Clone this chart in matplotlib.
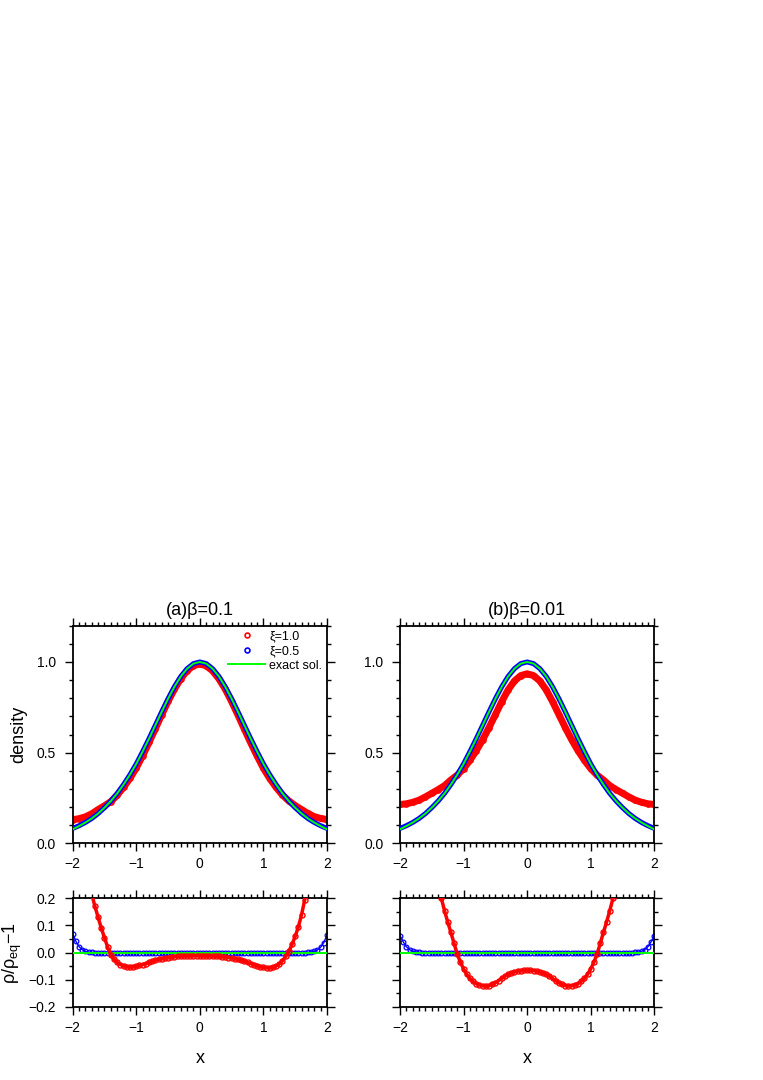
import numpy as np
import matplotlib
matplotlib.use('Agg')
import matplotlib.pyplot as plt
from matplotlib.lines import Line2D
from matplotlib.ticker import MultipleLocator, FuncFormatter

plt.rcParams['font.family'] = ['Liberation Sans', 'DejaVu Sans']

# density panels, x = -2 .. 2 step 0.1
x_top = np.round(np.arange(-2.0, 2.001, 0.1), 2)
exact = [0.077, 0.095, 0.1145, 0.137, 0.164, 0.1965, 0.233, 0.275, 0.324, 0.378,
         0.438, 0.506, 0.577, 0.651, 0.725, 0.797, 0.863, 0.920, 0.963, 0.991,
         1.000,
         0.991, 0.963, 0.920, 0.863, 0.797, 0.725, 0.651, 0.577, 0.506, 0.438,
         0.378, 0.324, 0.275, 0.233, 0.1965, 0.164, 0.137, 0.1145, 0.095, 0.077]
red_a = [0.130, 0.136, 0.146, 0.163, 0.186, 0.207, 0.230, 0.266, 0.309, 0.358,
         0.416, 0.483, 0.556, 0.632, 0.709, 0.783, 0.850, 0.908, 0.952, 0.980,
         0.989,
         0.979, 0.951, 0.907, 0.850, 0.781, 0.707, 0.630, 0.554, 0.482, 0.414,
         0.357, 0.308, 0.266, 0.2335, 0.208, 0.186, 0.165, 0.147, 0.137, 0.131]
blue_a = [0.082, 0.097, 0.115, 0.137, 0.164, 0.1965, 0.233, 0.275, 0.324, 0.378,
          0.438, 0.506, 0.577, 0.651, 0.725, 0.797, 0.863, 0.920, 0.963, 0.991,
          1.000,
          0.991, 0.963, 0.920, 0.863, 0.797, 0.725, 0.651, 0.577, 0.506, 0.438,
          0.378, 0.324, 0.275, 0.233, 0.1965, 0.164, 0.137, 0.115, 0.097, 0.082]
red_b = [0.214, 0.218, 0.226, 0.238, 0.256, 0.276, 0.296, 0.318, 0.349, 0.376,
         0.412, 0.458, 0.511, 0.571, 0.638, 0.7095, 0.781, 0.846, 0.895, 0.925,
         0.935,
         0.925, 0.895, 0.846, 0.781, 0.7095, 0.638, 0.571, 0.511, 0.458, 0.412,
         0.376, 0.349, 0.318, 0.296, 0.276, 0.256, 0.238, 0.226, 0.218, 0.214]
blue_b = [0.082, 0.097, 0.115, 0.137, 0.164, 0.1965, 0.233, 0.275, 0.324, 0.378,
          0.438, 0.506, 0.577, 0.651, 0.725, 0.797, 0.863, 0.920, 0.963, 0.991,
          1.000,
          0.991, 0.963, 0.920, 0.863, 0.797, 0.725, 0.651, 0.577, 0.506, 0.438,
          0.378, 0.324, 0.275, 0.233, 0.1965, 0.164, 0.137, 0.115, 0.097, 0.082]

# relative error panels, x = -2 .. 2 step 0.05
x_err = np.round(np.arange(-2.0, 2.001, 0.05), 3)
err_red_a = [0.65, 0.54, 0.45, 0.37, 0.30, 0.25, 0.215, 0.17, 0.13, 0.09,
             0.055, 0.02, -0.008, -0.024, -0.036, -0.044, -0.049, -0.052, -0.053, -0.052,
             -0.050, -0.047, -0.044, -0.040, -0.036, -0.032, -0.028, -0.025, -0.022, -0.020,
             -0.018, -0.016, -0.015, -0.014, -0.013, -0.012, -0.012, -0.011, -0.011, -0.011,
             -0.011,
             -0.011, -0.012, -0.012, -0.013, -0.013, -0.014, -0.015, -0.016, -0.018, -0.020,
             -0.022, -0.025, -0.028, -0.032, -0.036, -0.040, -0.044, -0.048, -0.052, -0.054,
             -0.056, -0.056, -0.054, -0.049, -0.042, -0.030, -0.014, 0.005, 0.030, 0.060,
             0.095, 0.14, 0.195, 0.26, 0.32, 0.39, 0.45, 0.51, 0.57, 0.62]
err_red_b = [1.70, 1.50, 1.30, 1.12, 0.97, 0.84, 0.73, 0.63, 0.54, 0.47,
             0.40, 0.33, 0.26, 0.20, 0.155, 0.113, 0.075, 0.034, -0.005, -0.035,
             -0.060, -0.080, -0.095, -0.106, -0.114, -0.119, -0.122, -0.123, -0.121, -0.117,
             -0.111, -0.103, -0.095, -0.087, -0.080, -0.075, -0.071, -0.068, -0.066, -0.065,
             -0.065,
             -0.065, -0.066, -0.068, -0.071, -0.075, -0.080, -0.087, -0.095, -0.103, -0.111,
             -0.117, -0.121, -0.123, -0.122, -0.119, -0.114, -0.106, -0.095, -0.080, -0.060,
             -0.035, -0.005, 0.034, 0.075, 0.113, 0.155, 0.20, 0.26, 0.33, 0.40,
             0.47, 0.54, 0.63, 0.73, 0.84, 0.97, 1.12, 1.30, 1.50, 1.70]
err_blue_a = ([0.070, 0.042, 0.022, 0.011, 0.005, 0.002, 0.001] + [0.0] * 67
              + [0.001, 0.002, 0.005, 0.010, 0.020, 0.037, 0.065])
err_blue_b = ([0.063, 0.040, 0.022, 0.011, 0.005, 0.002, 0.001] + [0.0] * 67
              + [0.001, 0.002, 0.005, 0.011, 0.022, 0.040, 0.063])

titles = ['(a)\u03b2=0.1', '(b)\u03b2=0.01']
legend_labels = ['\u03be=1.0', '\u03be=0.5', 'exact sol.']

W, H = 763, 1080
fig = plt.figure(figsize=(W / 100, H / 100), dpi=100)


def px_axes(l, t, r, b):
    return fig.add_axes([l / W, 1 - b / H, (r - l) / W, (b - t) / H])


def fmt1(v, pos):
    s = f'{v:.1f}'
    if s == '-0.0':
        s = '0.0'
    return s.replace('-', '\u2212')


def style(ax, ylim, ymaj, ymin, ylabels=True):
    ax.set_xlim(-2, 2)
    ax.set_ylim(*ylim)
    ax.xaxis.set_major_locator(MultipleLocator(1))
    ax.xaxis.set_minor_locator(MultipleLocator(0.1))
    ax.yaxis.set_major_locator(MultipleLocator(ymaj))
    ax.yaxis.set_minor_locator(MultipleLocator(ymin))
    ax.yaxis.set_major_formatter(FuncFormatter(fmt1))
    ax.tick_params(which='both', direction='out', top=True, right=True,
                   width=1.0, labelsize=10, color='black')
    ax.tick_params(which='major', length=6)
    ax.tick_params(which='minor', length=3)
    ax.tick_params(axis='x', pad=4)
    ax.tick_params(axis='y', pad=6)
    if not ylabels:
        ax.tick_params(labelleft=False)
    for sp in ax.spines.values():
        sp.set_linewidth(1.3)


tops = [px_axes(72.7, 625.7, 327, 843.3), px_axes(400, 625.7, 654.3, 843.3)]
bots = [px_axes(72.7, 898.3, 327, 1007), px_axes(400, 898.3, 654.3, 1007)]

for i, (ax, red, blue) in enumerate(zip(tops, [red_a, red_b], [blue_a, blue_b])):
    ax.plot(x_top, red, color='red', lw=5, zorder=2, solid_capstyle='round')
    ax.plot(x_top, red, 'o', mfc='none', mec='red', ms=3.8, mew=1.0, zorder=2)
    ax.plot(x_top, blue, color='blue', lw=3.6, zorder=3)
    ax.plot(x_top, exact, color='#00ff00', lw=1.4, zorder=4)
    style(ax, (0, 1.2), 0.5, 0.1)
    ax.set_title(titles[i], fontsize=13, pad=8)

handles = [Line2D([], [], color='red', marker='o', ls='none', mfc='none', ms=3.5, mew=1.2),
           Line2D([], [], color='blue', marker='o', ls='none', mfc='none', ms=3.5, mew=1.2),
           Line2D([], [], color='#00ff00', lw=1.4)]
tops[0].legend(handles, legend_labels, loc='upper right', frameon=False, fontsize=9,
               handlelength=3.0, handletextpad=0.3, labelspacing=0.2,
               borderaxespad=0.1, borderpad=0.3)

tops[0].set_ylabel('density', fontsize=13)
tops[0].yaxis.set_label_coords(-0.18, 0.5)

for i, (ax, er, eb) in enumerate(zip(bots, [err_red_a, err_red_b], [err_blue_a, err_blue_b])):
    ax.plot(x_err, eb, color='blue', lw=1.0, zorder=2)
    ax.plot(x_err, eb, 'o', mfc='none', mec='blue', ms=3.4, mew=0.9, zorder=2)
    ax.axhline(0, color='#00ff00', lw=1.4, zorder=3)
    ax.plot(x_err, er, color='red', lw=2.5, zorder=4)
    ax.plot(x_err, er, 'o', mfc='none', mec='red', ms=3.6, mew=1.0, zorder=4)
    style(ax, (-0.2, 0.2), 0.1, 0.05, ylabels=(i == 0))
    ax.set_xlabel('x', fontsize=13)
    ax.xaxis.set_label_coords(0.5, -0.40)

bots[0].set_ylabel('\u03c1/\u03c1$_{\\mathregular{eq}}$\u22121', fontsize=13)
bots[0].yaxis.set_label_coords(-0.19, 0.5)

fig.savefig('out.png', dpi=100)
